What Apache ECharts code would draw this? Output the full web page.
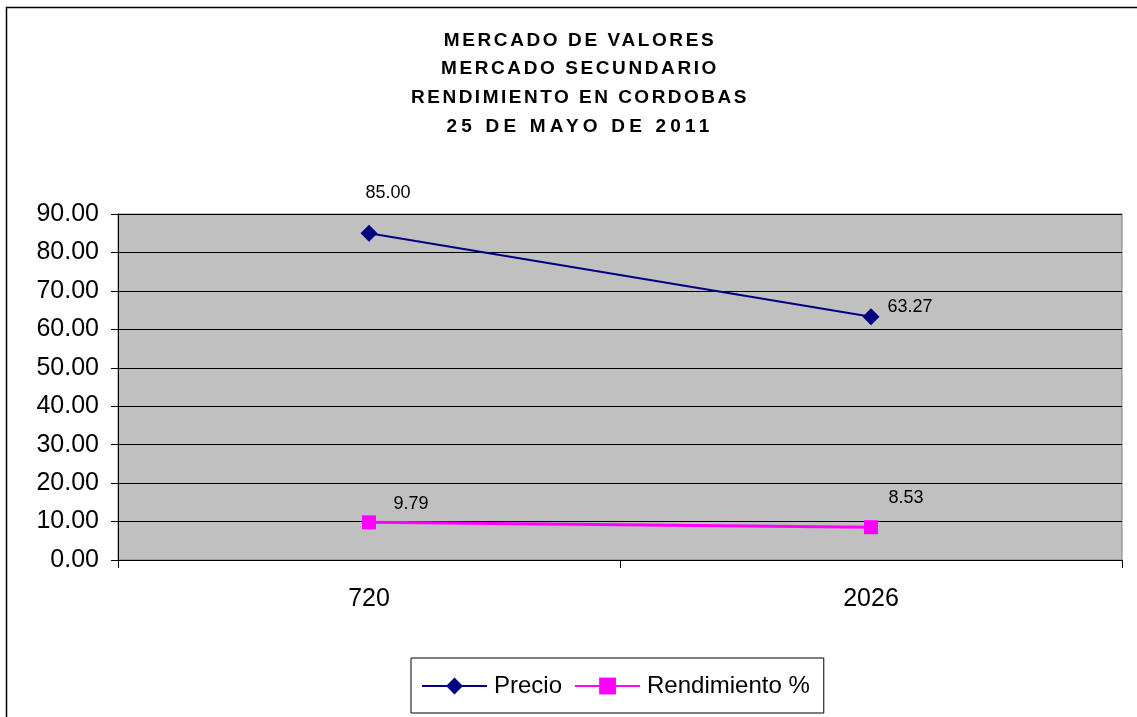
<!DOCTYPE html>
<html>
<head>
<meta charset="utf-8">
<script src="https://cdn.jsdelivr.net/npm/echarts@6/dist/echarts.min.js"></script>
<style>html,body{margin:0;padding:0;background:#fff;}#c{width:1137px;height:717px;}</style>
</head>
<body>
<div id="c"></div>
<script>
const titleLines = ['MERCADO DE VALORES', 'MERCADO SECUNDARIO', 'RENDIMIENTO EN CORDOBAS', '25 DE MAYO DE 2011'];
const categories = ['720', '2026'];
const precio = [85.00, 63.27];
const rendimiento = [9.79, 8.53];
const yTicks = [0, 10, 20, 30, 40, 50, 60, 70, 80, 90];

// widen title tracking (letter spacing) like the original, text stays real
const titleSpacing = [2.6, 2.6, 2.5, 4.2];
const spacingByLine = new Map(titleLines.map((t, i) => [t, titleSpacing[i]]));
const origFill = CanvasRenderingContext2D.prototype.fillText;
CanvasRenderingContext2D.prototype.fillText = function (t, x, y, w) {
  if (spacingByLine.has(t) && 'letterSpacing' in this) {
    const prev = this.letterSpacing;
    this.letterSpacing = spacingByLine.get(t) + 'px';
    const r = w === undefined ? origFill.call(this, t, x, y) : origFill.call(this, t, x, y, w);
    this.letterSpacing = prev;
    return r;
  }
  return origFill.apply(this, arguments);
};

const FONT = '"Liberation Sans", Arial, sans-serif';
const chart = echarts.init(document.getElementById('c'));

const precioLabelOffsets = [[19, -40], [0, -10]];
const precioLabelPos = ['inside', 'right'];
const rendLabelOffsets = [[42, -18], [35, -29]];

const labelStyle = {color: '#000', fontFamily: FONT, fontSize: 18};

chart.setOption({
  backgroundColor: '#fff',
  animation: false,
  title: {
    text: titleLines.join('\n'),
    left: 575, top: 21, textAlign: 'center',
    textStyle: {fontFamily: FONT, fontSize: 19, fontWeight: 'bold', color: '#000', lineHeight: 28.7}
  },
  graphic: [{
    type: 'rect', shape: {x: 6.5, y: 7.5, width: 1400, height: 1000},
    style: {fill: null, stroke: '#000', lineWidth: 1.5}, silent: true
  }],
  legend: {
    left: 411, top: 658,
    data: ['Precio', 'Rendimiento %'],
    itemWidth: 65, itemHeight: 21, itemGap: 12,
    padding: [16, 14, 15, 10],
    borderColor: '#000', borderWidth: 1,
    textStyle: {fontFamily: FONT, fontSize: 24, color: '#000', padding: [0, 0, 0, 2]}
  },
  grid: {
    left: 118, right: 15, top: 214, bottom: 157,
    show: true, backgroundColor: '#C0C0C0', borderColor: '#808080', borderWidth: 1
  },
  xAxis: {
    type: 'category', data: categories, boundaryGap: true,
    axisLine: {lineStyle: {color: '#000', width: 1}},
    axisTick: {show: true, length: 8, lineStyle: {color: '#000'}},
    axisLabel: {fontFamily: FONT, fontSize: 25, color: '#000', margin: 27}
  },
  yAxis: {
    type: 'value', min: yTicks[0], max: yTicks[yTicks.length - 1], interval: 10,
    axisLine: {show: true, lineStyle: {color: '#000', width: 1}},
    axisTick: {show: true, length: 7, lineStyle: {color: '#000'}},
    splitLine: {show: true, lineStyle: {color: '#000', width: 1}},
    axisLabel: {fontFamily: FONT, fontSize: 25, color: '#000', margin: 19,
      formatter: v => v.toFixed(2)}
  },
  series: [{
    name: 'Precio', type: 'line',
    data: precio.map((v, i) => ({value: v, label: {position: precioLabelPos[i], offset: precioLabelOffsets[i], distance: 8}})),
    symbol: 'diamond', symbolSize: 17,
    itemStyle: {color: '#000080'},
    lineStyle: {color: '#000080', width: 2},
    label: Object.assign({show: true, formatter: p => p.value.toFixed(2)}, labelStyle),
    z: 3
  }, {
    name: 'Rendimiento %', type: 'line',
    data: rendimiento.map((v, i) => ({value: v, label: {position: 'inside', offset: rendLabelOffsets[i]}})),
    symbol: 'rect', symbolSize: 14,
    itemStyle: {color: '#FF00FF'},
    lineStyle: {color: '#FF00FF', width: 3},
    label: Object.assign({show: true, formatter: p => p.value.toFixed(2)}, labelStyle),
    z: 2
  }]
});
</script>
</body>
</html>
